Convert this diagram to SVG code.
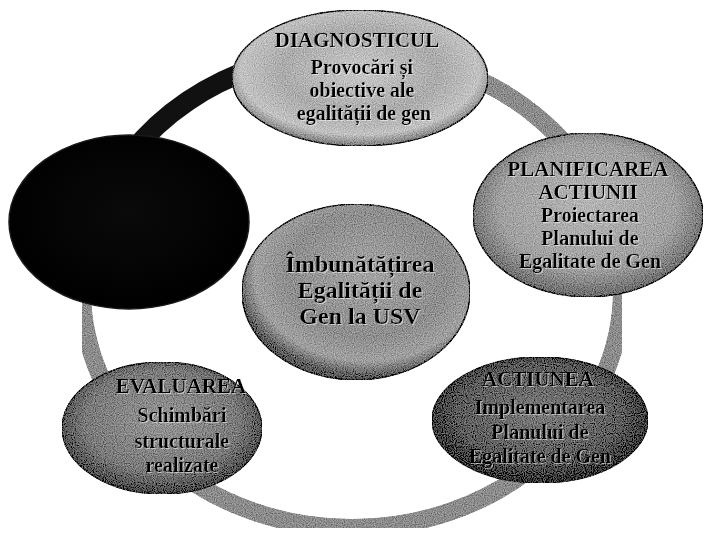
<svg xmlns="http://www.w3.org/2000/svg" width="705" height="540" viewBox="0 0 705 540">
<defs>
<style>
.t{font-family:"Liberation Serif","Times New Roman",serif;font-weight:bold;font-size:20px;fill:#050505;text-anchor:middle;filter:url(#glow)}
.h{font-size:21px}
.c{font-size:24px}
.node ellipse{stroke:#1a1a1a;stroke-width:1.5;filter:url(#grain)}
#node-dark ellipse{filter:none}
</style>
<filter id="grain" x="0" y="0" width="100%" height="100%">
<feTurbulence type="fractalNoise" baseFrequency="0.9" numOctaves="1" seed="4" result="n"/>
<feColorMatrix in="n" type="matrix" values="1 0 0 0 0 1 0 0 0 0 1 0 0 0 0 0 0 0 0 1" result="g"/>
<feComposite in="SourceGraphic" in2="g" operator="arithmetic" k2="1" k3="0.6" k4="-0.3" result="m"/>
<feComposite in="m" in2="SourceAlpha" operator="in"/>
</filter>
<filter id="glow" x="-10%" y="-30%" width="120%" height="160%">
<feDropShadow dx="1" dy="1" stdDeviation="0.5" flood-color="#ffffff" flood-opacity="0.55"/>
</filter>
<radialGradient id="gTop" cx="50%" cy="45%" r="55%">
<stop offset="0" stop-color="#c9c9c9"/><stop offset="0.55" stop-color="#ababab"/><stop offset="0.85" stop-color="#c2c2c2"/><stop offset="1" stop-color="#7a7a7a"/>
</radialGradient>
<radialGradient id="gRight" cx="50%" cy="45%" r="55%">
<stop offset="0" stop-color="#b4b4b4"/><stop offset="0.7" stop-color="#a0a0a0"/><stop offset="1" stop-color="#6a6a6a"/>
</radialGradient>
<radialGradient id="gCenter" cx="55%" cy="40%" r="58%">
<stop offset="0" stop-color="#a4a4a4"/><stop offset="0.6" stop-color="#8e8e8e"/><stop offset="0.85" stop-color="#a0a0a0"/><stop offset="1" stop-color="#5a5a5a"/>
</radialGradient>
<radialGradient id="gEval" cx="50%" cy="45%" r="55%">
<stop offset="0" stop-color="#959595"/><stop offset="0.7" stop-color="#7a7a7a"/><stop offset="1" stop-color="#464646"/>
</radialGradient>
<radialGradient id="gAct" cx="50%" cy="45%" r="55%">
<stop offset="0" stop-color="#7a7a7a"/><stop offset="0.7" stop-color="#5c5c5c"/><stop offset="1" stop-color="#2c2c2c"/>
</radialGradient>
<radialGradient id="gDark" cx="50%" cy="45%" r="55%">
<stop offset="0" stop-color="#0a0a0a"/><stop offset="1" stop-color="#000000"/>
</radialGradient>
</defs>
<rect width="705" height="540" fill="#ffffff"/>
<g id="connectors">
<ellipse cx="352" cy="290" rx="270" ry="238" fill="none" stroke="#8c8c8c" stroke-width="18" filter="url(#grain)"/>
<path d="M131,153.4 A270 238 0 0 1 259.7,66.3" fill="none" stroke="#111111" stroke-width="20"/>
</g>
<g id="node-diagnosticul" class="node">
<ellipse cx="360" cy="78" rx="128" ry="68" fill="url(#gTop)"/>
<text class="t h" x="357" y="47">DIAGNOSTICUL</text>
<text class="t" x="362" y="74">Provocări și</text>
<text class="t" x="362" y="97">obiective ale</text>
<text class="t" x="364" y="120">egalității de gen</text>
</g>
<g id="node-planificarea" class="node">
<ellipse cx="588" cy="215" rx="115" ry="82" fill="url(#gRight)"/>
<text class="t h" x="588" y="176">PLANIFICAREA</text>
<text class="t h" x="588" y="199">ACTIUNII</text>
<text class="t" x="590" y="222">Proiectarea</text>
<text class="t" x="590" y="245">Planului de</text>
<text class="t" x="590" y="268">Egalitate de Gen</text>
</g>
<g id="node-actiunea" class="node">
<ellipse cx="540" cy="420" rx="108" ry="63" fill="url(#gAct)"/>
<text class="t h" x="538" y="386">ACTIUNEA</text>
<text class="t" x="540" y="414">Implementarea</text>
<text class="t" x="540" y="439">Planului de</text>
<text class="t" x="540" y="463">Egalitate de Gen</text>
</g>
<g id="node-evaluarea" class="node">
<ellipse cx="162" cy="428" rx="100" ry="66" fill="url(#gEval)"/>
<text class="t h" x="181" y="393">EVALUAREA</text>
<text class="t" x="182" y="422">Schimbări</text>
<text class="t" x="182" y="448">structurale</text>
<text class="t" x="182" y="472">realizate</text>
</g>
<g id="node-dark" class="node">
<ellipse cx="129" cy="222" rx="120" ry="87" fill="url(#gDark)"/>
</g>
<g id="node-center" class="node">
<ellipse cx="356" cy="292" rx="114" ry="88" fill="url(#gCenter)"/>
<text class="t c" x="360" y="272">Îmbunătățirea</text>
<text class="t c" x="360" y="298">Egalității de</text>
<text class="t c" x="360" y="324">Gen la USV</text>
</g>
</svg>
